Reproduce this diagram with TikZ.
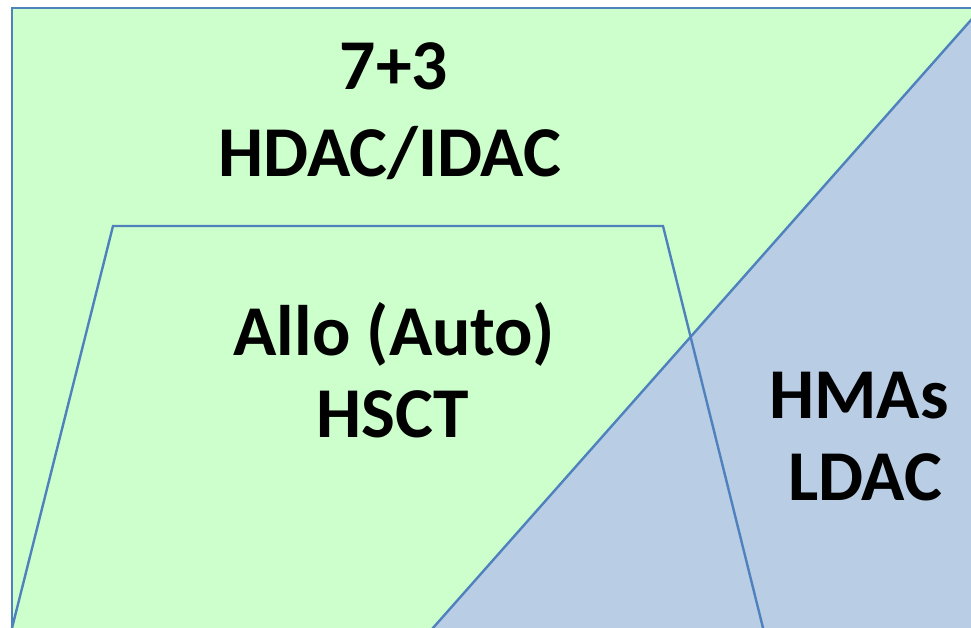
\documentclass[tikz,border=0pt]{standalone}
\usepackage{fontspec}
\setmainfont{Carlito}
\definecolor{paleGreen}{HTML}{CCFFCC}
\definecolor{paleBlue}{HTML}{B9CDE5}
\definecolor{edgeBlue}{HTML}{4F81BD}
\tikzset{
  zone/.style={draw=edgeBlue, line width=2.4pt, line join=miter},
  lbl/.style={anchor=base, inner sep=0pt, font=\fontsize{71.5}{86}\selectfont\bfseries}
}
\begin{document}
\begin{tikzpicture}[x=1pt, y=-1pt] % pixel units, y down
  \clip (0,0) rectangle (971,628);
  \fill[white] (0,0) rectangle (971,628);

  % Background panel and the lower right zone
  \filldraw[zone, fill=paleGreen] (12,8) rectangle (990,650);
  \filldraw[zone, fill=paleBlue] (413.5,650) -- (981.6,8) -- (990,8) -- (990,650) -- cycle;

  % Trapezoid (open at the bottom)
  \draw[zone] (6.5,650) -- (113,226) -- (663,226) -- (768.5,650);

  % Labels
  \node[lbl] (regimen) at (394,90) {7+3};
  \node[lbl] (hdac) at (390,177) {HDAC/IDAC};
  \node[lbl] (allo) at (394,355) {Allo (Auto)};
  \node[lbl] (hsct) at (393,437) {HSCT};
  \node[lbl] (hmas) at (859,418) {HMAs};
  \node[lbl] (ldac) at (865,500) {LDAC};
\end{tikzpicture}
\end{document}
